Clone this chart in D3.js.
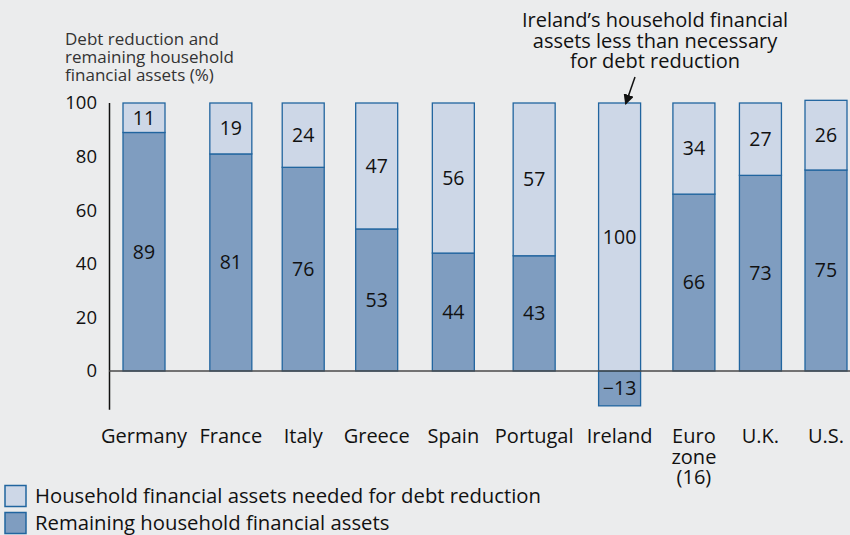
<!DOCTYPE html>
<html><head><meta charset="utf-8">
<script src="https://cdn.jsdelivr.net/npm/d3@7"></script>
<style>
html,body{margin:0;padding:0;background:#ebeced;}
svg{display:block;font-family:"Open Sans",sans-serif;}
</style></head>
<body><svg id="c" width="850" height="535"></svg>
<script>
const categories = ["Germany","France","Italy","Greece","Spain","Portugal","Ireland","Euro zone (16)","U.K.","U.S."];
const categoryLines = [["Germany"],["France"],["Italy"],["Greece"],["Spain"],["Portugal"],["Ireland"],["Euro","zone","(16)"],["U.K."],["U.S."]];
const remaining = [89,81,76,53,44,43,-13,66,73,75];
const needed = [11,19,24,47,56,57,100,34,27,26];
const yTicks = [0,20,40,60,80,100];
const seriesNames = ["Household financial assets needed for debt reduction","Remaining household financial assets"];
const axisTitle = ["Debt reduction and","remaining household","financial assets (%)"];
const annotation = ["Ireland\u2019s household financial","assets less than necessary","for debt reduction"];

const lightFill = "#cdd7e7", darkFill = "#7f9dc0", stroke = "#21659f";
const svg = d3.select("#c");
const defs = svg.append("defs");
defs.append("marker").attr("id","arr").attr("viewBox","0 0 10 10").attr("refX",9).attr("refY",5)
  .attr("markerWidth",7).attr("markerHeight",7).attr("orient","auto-start-reverse")
  .append("path").attr("d","M0,0 L10,5 L0,10 z").attr("fill","#111");

const y = d3.scaleLinear().domain([0,100]).range([371,103]);
const bw = 42;
const catFont = 20;

// measure category label widths to lay the columns out so labels never collide
const meas = svg.append("text").attr("font-size",catFont).attr("visibility","hidden");
const widths = categoryLines.map(lines=>d3.max(lines,l=>{meas.text(l);return Math.max(bw,meas.node().getComputedTextLength());}));
meas.remove();
const slots = [0];
for(let i=1;i<widths.length;i++) slots.push(slots[i-1]+(widths[i-1]+widths[i])/2);
// blend label-driven layout with even spacing
const even = categories.map((c,i)=>i*slots[slots.length-1]/(categories.length-1));
const slotPos = slots.map((s,i)=>0.5*s+0.5*even[i]);
const xLin = d3.scaleLinear().domain([0,slotPos[slotPos.length-1]]).range([144,826]);
const x = d3.scaleOrdinal().domain(categories).range(slotPos.map(s=>xLin(s)));

// y axis line
svg.append("line").attr("x1",109.5).attr("x2",109.5).attr("y1",y(100)).attr("y2",y(-14.5))
  .attr("stroke","#111").attr("stroke-width",1.5);
// tick labels
svg.selectAll(".yt").data(yTicks).join("text").attr("x",97).attr("y",d=>y(d)).attr("dy","0.35em")
  .attr("text-anchor","end").attr("font-size",18.5).attr("fill","#111").text(d=>d);
// axis title
svg.append("text").attr("x",65).attr("y",45).attr("font-size",17).attr("fill","#333")
  .selectAll("tspan").data(axisTitle).join("tspan").attr("x",65).attr("dy",(d,i)=>i?18:0).text(d=>d);

const data = categories.map((c,i)=>({c, rem:remaining[i], need:needed[i], lines:categoryLines[i]}));

const g = svg.append("g");
g.selectAll(".dark").data(data).join("rect")
  .attr("x",d=>x(d.c)-bw/2).attr("width",bw)
  .attr("y",d=>y(Math.max(0,d.rem))).attr("height",d=>Math.abs(y(d.rem)-y(0)))
  .attr("fill",darkFill).attr("stroke",stroke).attr("stroke-width",1.3);
g.selectAll(".light").data(data).join("rect")
  .attr("x",d=>x(d.c)-bw/2).attr("width",bw)
  .attr("y",d=>y(Math.max(0,d.rem)+d.need)).attr("height",d=>y(Math.max(0,d.rem))-y(Math.max(0,d.rem)+d.need))
  .attr("fill",lightFill).attr("stroke",stroke).attr("stroke-width",1.3);

// zero line
svg.append("line").attr("x1",109).attr("x2",850).attr("y1",y(0)).attr("y2",y(0))
  .attr("stroke","#4a4a4a").attr("stroke-width",1.5);

// value labels
const vl = svg.append("g").attr("font-size",19.5).attr("fill","#111").attr("text-anchor","middle");
vl.selectAll(".vd").data(data).join("text").attr("x",d=>x(d.c))
  .attr("y",d=>(y(d.rem)+y(0))/2).attr("dy","0.35em")
  .text(d=>d.rem<0?"\u2212"+Math.abs(d.rem):d.rem);
vl.selectAll(".vn").data(data).join("text").attr("x",d=>x(d.c))
  .attr("y",d=>(y(Math.max(0,d.rem))+y(Math.max(0,d.rem)+d.need))/2).attr("dy","0.35em")
  .text(d=>d.need);

// category labels
const cl = svg.append("g").attr("font-size",catFont).attr("fill","#111").attr("text-anchor","middle");
cl.selectAll("text").data(data).join("text").attr("x",d=>x(d.c)).attr("y",443)
  .selectAll("tspan").data(d=>d.lines.map(l=>({l,x:x(d.c)}))).join("tspan")
  .attr("x",d=>d.x).attr("dy",(d,i)=>i?20.5:0).text(d=>d.l);

// annotation
svg.append("text").attr("x",655).attr("y",27).attr("font-size",20).attr("fill","#111").attr("text-anchor","middle")
  .selectAll("tspan").data(annotation).join("tspan").attr("x",655).attr("dy",(d,i)=>i?20.5:0).text(d=>d);
svg.append("line").attr("x1",635).attr("y1",77).attr("x2",x("Ireland")+6).attr("y2",104)
  .attr("stroke","#111").attr("stroke-width",1.5).attr("marker-end","url(#arr)");

// legend
const lg = svg.append("g");
const fills=[lightFill,darkFill];
seriesNames.forEach((s,i)=>{
  lg.append("rect").attr("x",5).attr("y",485.5+i*27).attr("width",21).attr("height",21)
    .attr("fill",fills[i]).attr("stroke",stroke).attr("stroke-width",1.5);
  lg.append("text").attr("x",35).attr("y",503+i*27).attr("font-size",20.3).attr("fill","#111").text(s);
});
</script></body></html>
